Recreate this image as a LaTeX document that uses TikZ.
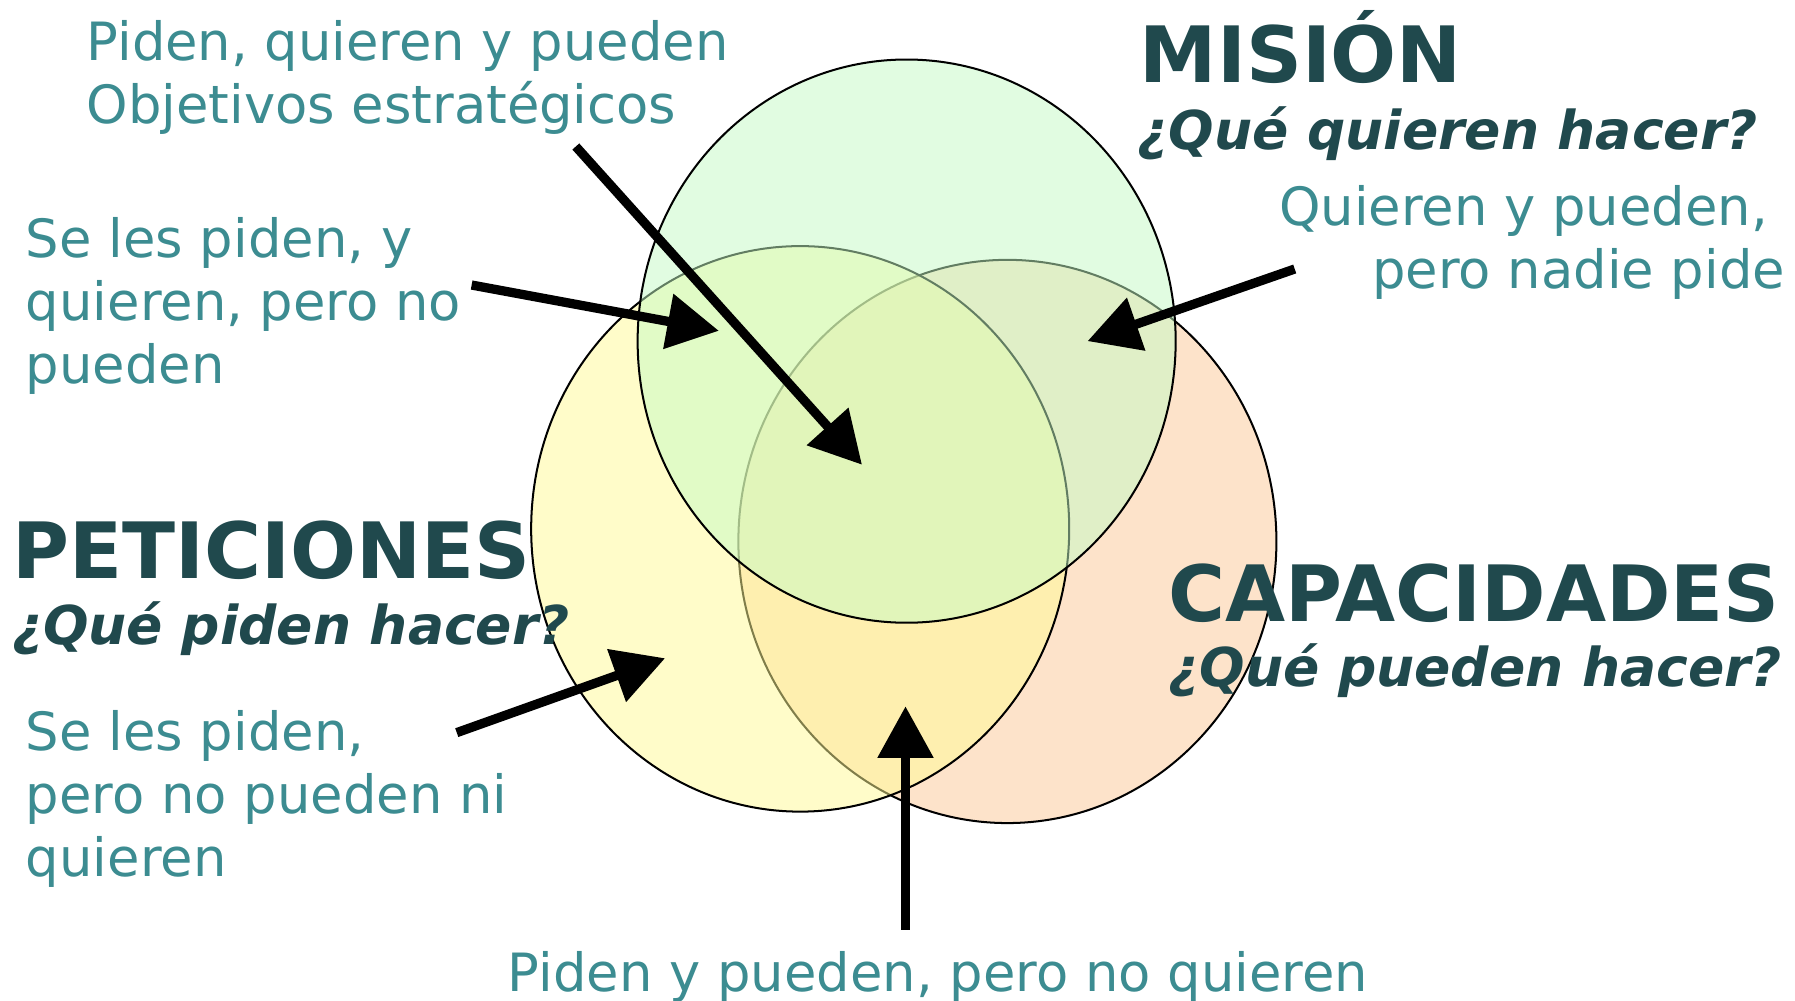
\documentclass[tikz,border=0pt]{standalone}
\usepackage{fontspec}
\setmainfont{DejaVu Sans}[BoldFont={DejaVu Sans Bold},ItalicFont={DejaVu Sans Oblique},BoldItalicFont={DejaVu Sans Bold Oblique}]
\usetikzlibrary{arrows.meta}
\definecolor{titlecol}{RGB}{32,73,77}
\definecolor{textcol}{RGB}{60,140,145}
\definecolor{misioncol}{RGB}{197,251,197}
\definecolor{peticol}{RGB}{255,251,149}
\definecolor{capacol}{RGB}{253,227,202}
\begin{document}
\begin{tikzpicture}[x=0.01cm,y=-0.01cm,
set/.style={draw=black,line width=0.5pt},
heading/.style={anchor=base west,inner sep=0pt,text=titlecol,font=\fontsize{19.3}{22}\selectfont\bfseries},
question/.style={anchor=base west,inner sep=0pt,text=titlecol,font=\fontsize{13.3}{16}\selectfont\bfseries\itshape},
remark/.style={anchor=base west,inner sep=0pt,text=textcol,align=left,font=\fontsize{13.1}{15.65}\selectfont},
pointer/.style={line width=2.3pt,-{Triangle[length=0.45cm,width=0.47cm]}}]
\fill[white] (0,0) rectangle (1568,874);
\useasboundingbox (0,0) rectangle (1568,874);
\draw[set,fill=capacol] (880,473) coordinate (capa) ellipse [x radius=235,y radius=246];
\draw[set,fill=peticol,fill opacity=0.5] (699,462) coordinate (peti) ellipse [x radius=235,y radius=247];
\draw[set,fill=misioncol,fill opacity=0.5] (792,298) coordinate (mis) ellipse [x radius=235,y radius=246];

\draw (995,72) node[heading] (mision) {MISIÓN};
\draw (993,131) node[question] (misionq) {¿Qué quieren hacer?};
\draw (10,505) node[heading] (peticiones) {PETICIONES};
\draw (10,563) node[question] (peticionesq) {¿Qué piden hacer?};
\draw (1020,543) node[heading] (capacidades) {CAPACIDADES};
\draw (1020,600) node[question] (capacidadesq) {¿Qué pueden hacer?};

\draw (75,108) node[remark] (todos) {Piden, quieren y pueden\\Objetivos estratégicos};
\draw (22,335) node[remark] (nopueden) {Se les piden, y\\quieren, pero no\\pueden};
\draw (1560,252) node[remark,anchor=base east,align=right] (nopiden) {Quieren y pueden,\hspace*{0.15cm}\\pero nadie pide};
\draw (22,766) node[remark] (solopiden) {Se les piden,\\pero no pueden ni\\quieren};
\draw (443,866) node[remark] (noquieren) {Piden y pueden, pero no quieren};

\coordinate (todos-a) at (503,128);
\coordinate (todos-b) at (753,406);
\coordinate (nopueden-a) at (412,249);
\coordinate (nopueden-b) at (628,289);
\coordinate (nopiden-a) at (1131,235);
\coordinate (nopiden-b) at (950,298);
\coordinate (solopiden-a) at (399,640);
\coordinate (solopiden-b) at (581,575);
\coordinate (noquieren-a) at (791,812);
\coordinate (noquieren-b) at (791,617);
\draw[pointer] (todos-a) -- (todos-b);
\draw[pointer] (nopueden-a) -- (nopueden-b);
\draw[pointer] (nopiden-a) -- (nopiden-b);
\draw[pointer] (solopiden-a) -- (solopiden-b);
\draw[pointer] (noquieren-a) -- (noquieren-b);
\end{tikzpicture}
\end{document}
